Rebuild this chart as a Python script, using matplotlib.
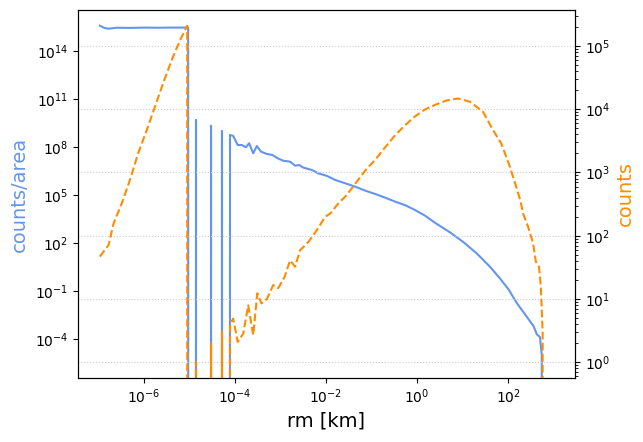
"""Radial profile: counts/area (left, log) and counts (right, log) vs rm."""
import numpy as np
import matplotlib.pyplot as plt
from matplotlib.ticker import NullLocator, FixedLocator

# log10(rm [km]) and log10(counts/area); None = empty bin (zero)
area_logx = [-6.97, -6.88, -6.79, -6.6, -6.3, -6.0, -5.7, -5.4, -5.1, -5.03,
             -4.95, -4.857, -4.80, -4.60, -4.527, -4.45, -4.35, -4.286, -4.20,
             -4.11, -4.04, -3.94, -3.85, -3.76, -3.69, -3.60, -3.52, -3.43,
             -3.30, -3.18, -3.06, -2.94, -2.79, -2.68, -2.59, -2.50, -2.31,
             -2.17, -1.98, -1.80, -1.58, -1.36, -1.14, -0.92, -0.70, -0.48,
             -0.26, -0.04, 0.18, 0.40, 0.73, 1.02, 1.31, 1.60, 1.82, 2.01,
             2.19, 2.37, 2.56, 2.63, 2.70, 2.74, 2.78]
area_logy = [15.58, 15.45, 15.39, 15.45, 15.44, 15.46, 15.45, 15.46, 15.46, 15.46,
             None, 9.69, None, None, 9.33, None, None, 9.0, None,
             8.75, 8.69, 8.12, 8.12, 7.98, 8.23, 7.6, 8.06, 7.71,
             7.56, 7.5, 7.29, 7.14, 7.08, 6.83, 6.87, 6.71, 6.56,
             6.35, 6.19, 5.94, 5.73, 5.52, 5.27, 5.06, 4.83, 4.58,
             4.36, 4.05, 3.70, 3.25, 2.65, 2.05, 1.35, 0.52, -0.21, -0.9,
             -1.75, -2.45, -3.2, -3.7, -3.88, -5.0, None]

# log10(rm [km]) and log10(counts); None = empty bin
cnt_logx = [-6.97, -6.78, -6.67, -6.49, -6.31, -6.13, -5.94, -5.76, -5.58,
            -5.39, -5.21, -5.05, -4.95, -4.857, -4.80, -4.60, -4.527, -4.45,
            -4.35, -4.286, -4.20, -4.11, -4.04, -3.94, -3.82, -3.71, -3.60,
            -3.51, -3.42, -3.30, -3.16, -3.05, -2.91, -2.79, -2.68, -2.57,
            -2.39, -2.20, -2.02, -1.91, -1.73, -1.55, -1.38, -1.14, -0.92,
            -0.70, -0.48, -0.26, -0.04, 0.18, 0.43, 0.65, 0.90, 1.16, 1.45,
            1.67, 1.85, 2.04, 2.18, 2.27, 2.33, 2.44, 2.55, 2.61, 2.68, 2.72,
            2.76, 2.80]
cnt_logy = [1.67, 1.85, 2.19, 2.51, 2.88, 3.30, 3.67, 4.04, 4.41,
            4.78, 5.09, 5.32, None, 0.0, None, None, 0.30, None,
            None, 0.48, None, 0.60, 0.69, 0.32, 0.45, 0.9, 0.43,
            1.09, 0.93, 1.0, 1.22, 1.17, 1.35, 1.61, 1.51, 1.77,
            1.90, 2.09, 2.30, 2.35, 2.51, 2.64, 2.80, 3.03, 3.20,
            3.40, 3.59, 3.75, 3.89, 4.0, 4.08, 4.14, 4.17, 4.12, 3.96,
            3.67, 3.46, 3.09, 2.77, 2.56, 2.35, 2.14, 1.88, 1.59, 1.51, 1.19,
            0.46, None]

x_ticks = [1e-6, 1e-4, 1e-2, 1e0, 1e2]
area_ticks = [1e-4, 1e-1, 1e2, 1e5, 1e8, 1e11, 1e14]
cnt_ticks = [1e0, 1e1, 1e2, 1e3, 1e4, 1e5]


def to_lin(logs):
    return np.array([0.0 if v is None else 10.0 ** v for v in logs])


fig = plt.figure(figsize=(6.43, 4.42), dpi=100)
ax = fig.add_axes([0.1213, 0.1448, 0.7729, 0.8326])
ax.plot(10.0 ** np.array(area_logx), to_lin(area_logy), color='cornflowerblue', lw=1.5)
ax.set_xscale('log')
ax.set_yscale('log')
ax.xaxis.set_major_locator(FixedLocator(x_ticks))
ax.yaxis.set_major_locator(FixedLocator(area_ticks))
ax.xaxis.set_minor_locator(NullLocator())
ax.yaxis.set_minor_locator(NullLocator())
ax.set_xlim(10 ** -7.45, 10 ** 3.47)
ax.set_ylim(10 ** -6.44, 10 ** 16.56)
ax.set_xlabel('rm [km]', fontsize=14)
ax.set_ylabel('counts/area', fontsize=14, color='cornflowerblue')

ax2 = ax.twinx()
ax2.plot(10.0 ** np.array(cnt_logx), to_lin(cnt_logy), color='darkorange', ls='--', lw=1.5)
ax2.set_yscale('log')
ax2.yaxis.set_major_locator(FixedLocator(cnt_ticks))
ax2.set_ylim(10 ** -0.25, 10 ** 5.57)
ax2.set_ylabel('counts', fontsize=14, color='darkorange')
ax2.grid(True, axis='y', which='major', ls=':', color='0.8', lw=0.8)
ax.set_xlim(10 ** -7.45, 10 ** 3.47)

fig.savefig('out.png', dpi=100)
